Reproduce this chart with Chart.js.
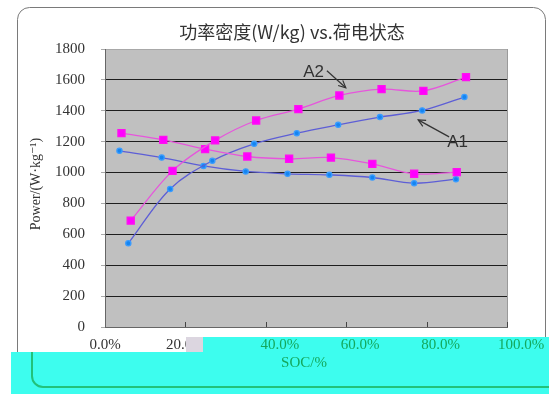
<!DOCTYPE html>
<html><head><meta charset="utf-8">
<script src="https://cdn.jsdelivr.net/npm/chart.js@4"></script>
<style>html,body{margin:0;padding:0;background:#fff;}</style>
</head><body>
<canvas id="c" width="549" height="394"></canvas>
<script>
// ---- data ----
const socA2Up   = [6.4, 16.8, 27.4, 37.6, 48.1, 58.3, 68.8, 79.2, 89.8];
const powA2Up   = [689, 1011, 1208, 1337, 1411, 1499, 1540, 1529, 1618];
const socA2Down = [4.1, 14.5, 24.9, 35.4, 45.8, 56.2, 66.5, 76.9, 87.5];
const powA2Down = [1255, 1212, 1152, 1104, 1089, 1097, 1056, 992, 1003];
const socA1Up   = [5.8, 16.2, 26.7, 37.1, 47.7, 58.0, 68.4, 78.9, 89.4];
const powA1Up   = [542, 894, 1076, 1186, 1255, 1309, 1359, 1402, 1489];
const socA1Down = [3.6, 14.1, 24.5, 35.0, 45.4, 55.8, 66.5, 76.9, 87.3];
const powA1Down = [1141, 1097, 1043, 1007, 992, 985, 968, 931, 957];
const xTickValues = [0, 20, 40, 60, 80, 100];
const xTickLabels = ['0.0%', '20.0%', '40.0%', '60.0%', '80.0%', '100.0%'];
const titleText = '功率密度(W/kg) vs.荷电状态';
const xTitle = 'SOC/%';
const yTitle = 'Power/(W·kg⁻¹)';
// annotation anchors in data units [soc, power]
const labelA2 = {text: 'A2', at: [51.9, 1649], from: [55.2, 1659], to: [59.9, 1549]};
const labelA1 = {text: 'A1', at: [87.7, 1194], from: [85.6, 1231], to: [77.9, 1341]};

const pts = (xs, ys) => xs.map((x, i) => ({x, y: ys[i]}));
const magenta = {borderColor: '#e655dc', backgroundColor: '#ff00ff', pointBorderColor: '#ff10f0',
  pointStyle: 'rect', pointRadius: 5, pointHoverRadius: 5, borderWidth: 1.3, tension: 0.35};
const blue = {borderColor: '#5d5ed6', backgroundColor: '#1585f0', pointBorderColor: '#3a9cff',
  pointStyle: 'circle', pointRadius: 2.6, pointHoverRadius: 2.6, borderWidth: 1.3, tension: 0.35};

const serif = '"Liberation Serif", "DejaVu Serif", serif';

function arrow(ctx, x1, y1, x2, y2) {
  ctx.beginPath(); ctx.moveTo(x1, y1); ctx.lineTo(x2, y2); ctx.stroke();
  const a = Math.atan2(y2 - y1, x2 - x1), L = 8, w = 0.45;
  ctx.beginPath();
  ctx.moveTo(x2 - L * Math.cos(a - w), y2 - L * Math.sin(a - w));
  ctx.lineTo(x2, y2);
  ctx.lineTo(x2 - L * Math.cos(a + w), y2 - L * Math.sin(a + w));
  ctx.stroke();
}

const decor = {
  id: 'decor',
  beforeDraw(chart) {
    const {ctx, chartArea: a} = chart;
    ctx.save();
    ctx.strokeStyle = '#7a7a7a'; ctx.lineWidth = 1;
    ctx.beginPath(); ctx.roundRect(17.5, 7.5, 528, 420, 12); ctx.stroke();
    ctx.fillStyle = '#c0c0c0';
    ctx.fillRect(a.left, a.top, a.right - a.left, a.bottom - a.top);
    ctx.restore();
  },
  beforeDatasetsDraw(chart) {
    const {ctx, chartArea: a, scales: {x}} = chart;
    ctx.save();
    ctx.strokeStyle = '#9a9a9a'; ctx.lineWidth = 1;
    ctx.beginPath(); ctx.moveTo(a.right + 0.5, a.top); ctx.lineTo(a.right + 0.5, a.bottom); ctx.stroke();
    ctx.strokeStyle = '#444';
    xTickValues.slice(1).forEach(v => {
      const px = Math.round(x.getPixelForValue(v)) + 0.5;
      ctx.beginPath(); ctx.moveTo(px, a.bottom); ctx.lineTo(px, a.bottom - 5); ctx.stroke();
    });
    ctx.restore();
  },
  afterDatasetsDraw(chart) {
    const {ctx, scales: {x, y}} = chart;
    const P = p => [x.getPixelForValue(p[0]), y.getPixelForValue(p[1])];
    ctx.save();
    ctx.fillStyle = '#333'; ctx.strokeStyle = '#333'; ctx.lineWidth = 1.2;
    ctx.textAlign = 'center'; ctx.textBaseline = 'middle';
    ctx.font = '17px "Liberation Sans", Arial, sans-serif';
    [labelA2, labelA1].forEach(l => {
      const t = P(l.at); ctx.fillText(l.text, t[0], t[1]);
      const f = P(l.from), e = P(l.to); arrow(ctx, f[0], f[1], e[0], e[1]);
    });
    ctx.restore();
  },
  afterDraw(chart) {
    const {ctx, scales: {x}} = chart;
    ctx.save();
    // title
    ctx.fillStyle = '#333'; ctx.textAlign = 'center'; ctx.textBaseline = 'middle';
    ctx.font = '18px "Noto Sans CJK SC", sans-serif';
    ctx.fillText(titleText, 292, 32);
    // y title
    ctx.save();
    ctx.translate(36, 184); ctx.rotate(-Math.PI / 2);
    ctx.font = '14px ' + serif; ctx.fillText(yTitle, 0, 0);
    ctx.restore();
    // cyan overlay band over the lower part of the picture
    ctx.fillStyle = '#3dfdee';
    ctx.fillRect(203, 337, 346, 15);
    ctx.fillRect(11, 352, 538, 42);
    ctx.fillStyle = '#dcd6e0';
    ctx.fillRect(186, 337, 17, 15);
    ctx.strokeStyle = '#22c27a'; ctx.lineWidth = 2;
    ctx.beginPath(); ctx.moveTo(32, 352); ctx.lineTo(32, 376);
    ctx.arcTo(32, 387, 43, 387, 11); ctx.lineTo(549, 387); ctx.stroke();
    ctx.fillStyle = '#14a85c';
    ctx.font = '15px ' + serif;
    xTickValues.forEach((v, i) => {
      if (v >= 40) ctx.fillText(xTickLabels[i], x.getPixelForValue(v) + 14, 345);
    });
    ctx.fillText(xTitle, 304, 363);
    ctx.restore();
  }
};

new Chart(document.getElementById('c'), {
  type: 'line',
  data: {
    datasets: [
      {label: 'A2', data: pts(socA2Up, powA2Up), ...magenta},
      {label: 'A2 ', data: pts(socA2Down, powA2Down), ...magenta},
      {label: 'A1', data: pts(socA1Up, powA1Up), ...blue},
      {label: 'A1 ', data: pts(socA1Down, powA1Down), ...blue}
    ]
  },
  options: {
    responsive: false, animation: false, devicePixelRatio: 1,
    layout: {padding: {top: 49, right: 42, left: 0, bottom: 0}},
    plugins: {legend: {display: false}, tooltip: {enabled: false}, title: {display: false}},
    scales: {
      x: {
        type: 'linear', min: 0, max: 100,
        afterFit: s => { s.height = 67; },
        afterBuildTicks: s => { s.ticks = xTickValues.map(v => ({value: v})); },
        grid: {drawOnChartArea: false, drawTicks: false},
        border: {color: '#666', width: 1},
        ticks: {
          padding: 9, maxRotation: 0, autoSkip: false,
          font: {family: serif, size: 15},
          color: c => (c.tick && c.tick.value < 40) ? '#333' : 'rgba(0,0,0,0)',
          callback: v => xTickLabels[xTickValues.indexOf(v)]
        }
      },
      y: {
        min: 0, max: 1800,
        afterFit: s => { s.width = 105; },
        grid: {
          color: c => c.tick.value === 1800 ? '#a8a8a8' : (c.tick.value === 0 ? '#666' : '#1e1e1e'),
          lineWidth: 1, tickLength: 4, tickColor: '#aaa'
        },
        border: {color: '#666', width: 1},
        ticks: {stepSize: 200, padding: 16, font: {family: serif, size: 15}, color: '#333',
          callback: v => String(v)}
      }
    }
  },
  plugins: [decor]
});
</script>
</body></html>
